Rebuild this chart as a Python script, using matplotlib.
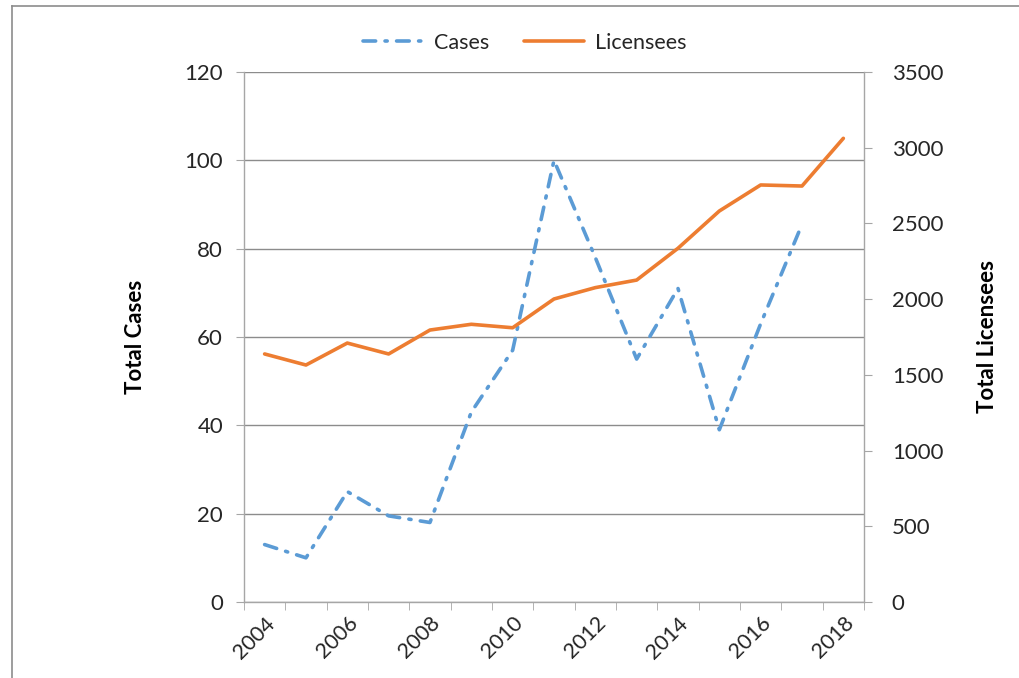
import matplotlib.pyplot as plt
import numpy as np
from matplotlib.lines import Line2D

years = list(range(2004, 2019))
cases = [13, 10, 25, 19.5, 18, 43, 57, 100, 78, 55, 71, 39, 63, 85.5, np.nan]
licensees = [1638, 1565, 1710, 1638, 1796, 1834, 1811, 2001, 2076, 2126,
             2336, 2582, 2754, 2747, 3062]
case_ticks = [0, 20, 40, 60, 80, 100, 120]
licensee_ticks = [0, 500, 1000, 1500, 2000, 2500, 3000, 3500]

blue = '#5B9BD5'
orange = '#ED7D31'
gray = '#A6A6A6'
text_color = '#262626'

plt.rcParams['font.family'] = ['Lato', 'DejaVu Sans']

fig = plt.figure(figsize=(10.19, 6.78), dpi=100)
ax = fig.add_axes([0.2394, 0.1121, 0.6085, 0.7817])
ax2 = ax.twinx()

x = np.arange(len(years))

ax.plot(x, cases, color=blue, linewidth=2.6, dashes=(3.5, 2.6, 0.6, 2.6),
        dash_capstyle='round', label='Cases', zorder=3)
ax2.plot(x, licensees, color=orange, linewidth=2.6, solid_capstyle='round',
         label='Licensees', zorder=3)

ax.set_xlim(-0.5, len(years) - 0.5)
ax.set_ylim(0, 120)
ax2.set_ylim(0, 3500)
ax.set_yticks(case_ticks)
ax2.set_yticks(licensee_ticks)

# category axis: ticks between categories, labels on every other year
ax.set_xticks(np.arange(-0.5, len(years)), minor=True)
ax.set_xticks(x[::2])
ax.set_xticklabels([str(y) for y in years[::2]], rotation=45, ha='right',
                   rotation_mode='anchor', fontsize=15.5, color=text_color)
ax.tick_params(axis='x', which='major', length=0, pad=8)
ax.tick_params(axis='x', which='minor', length=6, color=gray, direction='out')

ax.tick_params(axis='y', length=6, color=gray, labelsize=16,
               labelcolor=text_color, pad=9)
ax2.tick_params(axis='y', length=6, color=gray, labelsize=16,
                labelcolor=text_color, pad=14)

ax.grid(axis='y', color='#8C8C8C', linewidth=1)
ax.set_axisbelow(True)

for a in (ax, ax2):
    a.spines['top'].set_visible(False)
    for s in ('left', 'right', 'bottom'):
        a.spines[s].set_color(gray)
        a.spines[s].set_linewidth(1)
ax2.spines['left'].set_visible(False)
ax2.spines['bottom'].set_visible(False)
ax.spines['right'].set_visible(False)

ax.set_ylabel('Total Cases', fontsize=16, fontweight='bold', color='black',
              labelpad=28)
ax2.set_ylabel('Total Licensees', fontsize=16, fontweight='bold', color='black',
               labelpad=24)

h1, l1 = ax.get_legend_handles_labels()
h2, l2 = ax2.get_legend_handles_labels()
fig.legend(h1 + h2, l1 + l2, loc='center', bbox_to_anchor=(0.515, 0.937),
           ncol=2, frameon=False, fontsize=15.5, handlelength=2.8,
           columnspacing=1.6, handletextpad=0.5, labelcolor=text_color)

# chart border (top and left edges visible in the reference crop)
fig.add_artist(Line2D([12 / 1019, 1], [1 - 6 / 678, 1 - 6 / 678],
                      color='#8C8C8C', linewidth=1.2))
fig.add_artist(Line2D([12 / 1019, 12 / 1019], [0, 1 - 6 / 678],
                      color='#8C8C8C', linewidth=1.2))

fig.savefig('out.png', dpi=100)
